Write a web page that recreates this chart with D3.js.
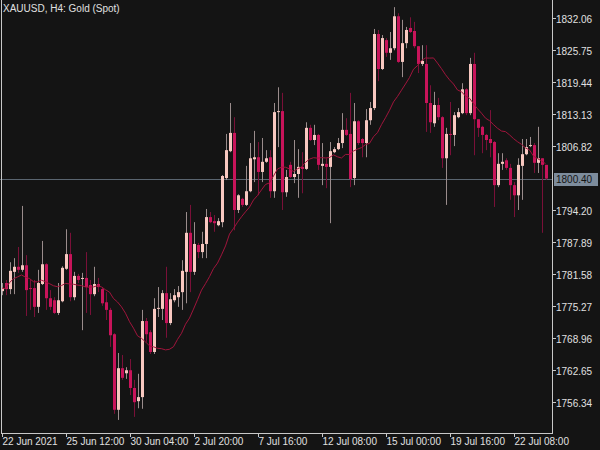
<!DOCTYPE html>
<html>
<head>
<meta charset="utf-8">
<script src="https://cdn.jsdelivr.net/npm/d3@7"></script>
<style>
  body { margin: 0; background: #141414; }
  svg text { font-family: "Liberation Sans", sans-serif; font-size: 10px; }
</style>
</head>
<body>
<svg id="chart" width="600" height="450"></svg>
<script>
// XAUUSD H4 candles
var opens = [1778.2,1779.8,1778.6,1782.0,1783.0,1782.4,1783.3,1778.8,1778.8,1775.1,1779.6,1783.5,1776.8,1776.4,1773.9,1776.2,1782.6,1785.5,1777.0,1781.2,
  1780.6,1780.8,1779.4,1777.6,1779.6,1778.6,1776.0,1774.5,1769.7,1754.8,1763.0,1762.0,1762.6,1759.1,1756.5,1757.3,1772.3,1770.1,1766.2,1774.7,
  1774.7,1777.8,1771.9,1776.4,1777.0,1778.0,1782.0,1789.7,1782.0,1787.3,1785.9,1787.5,1792.8,1792.0,1791.2,1791.8,1800.5,1805.8,1809.4,1794.2,
  1796.4,1795.2,1797.9,1804.2,1804.6,1801.7,1803.7,1804.6,1797.9,1813.5,1813.7,1797.7,1803.1,1800.7,1801.3,1802.7,1802.3,1810.4,1808.0,1809.0,
  1802.9,1803.3,1802.7,1805.6,1806.2,1807.4,1810.0,1809.2,1800.5,1811.7,1808.2,1807.4,1811.9,1814.3,1828.9,1822.0,1827.7,1825.2,1826.1,1832.4,
  1823.4,1827.1,1830.1,1829.5,1826.5,1823.0,1823.0,1815.3,1811.3,1814.9,1812.5,1804.4,1809.2,1809.0,1812.5,1813.3,1818.0,1813.3,1823.0,1812.1,
  1810.6,1809.0,1808.2,1807.6,1799.1,1803.3,1804.0,1802.5,1799.1,1797.1,1802.9,1805.2,1806.8,1807.0,1803.5,1804.4,1803.1];
var highs = [1779.8,1780.4,1783.9,1784.7,1786.9,1795.0,1785.3,1780.4,1780.4,1782.4,1788.1,1783.7,1778.4,1777.0,1779.8,1783.1,1790.4,1789.7,1782.0,1781.6,
  1781.8,1785.9,1780.4,1783.0,1780.8,1779.0,1778.0,1774.9,1769.9,1766.0,1765.6,1763.2,1764.8,1760.7,1761.9,1774.5,1772.9,1770.5,1776.8,1779.0,
  1778.4,1783.0,1777.8,1778.6,1779.2,1784.3,1793.8,1795.2,1791.8,1787.7,1789.9,1794.4,1793.8,1793.2,1792.6,1801.1,1809.2,1815.3,1812.5,1797.3,
  1796.6,1802.9,1807.4,1809.8,1807.6,1808.4,1806.0,1806.0,1815.3,1818.4,1817.3,1802.1,1803.7,1808.0,1806.2,1805.6,1811.5,1811.0,1811.0,1809.2,
  1807.4,1804.4,1807.6,1806.6,1808.4,1813.3,1812.3,1817.3,1815.3,1811.9,1808.4,1814.1,1815.5,1829.9,1829.7,1828.7,1828.1,1829.3,1834.2,1833.0,
  1831.7,1830.3,1832.2,1831.3,1826.5,1826.7,1826.7,1818.8,1817.5,1816.3,1812.7,1810.4,1815.5,1813.5,1814.3,1819.2,1818.2,1824.2,1825.2,1812.1,
  1810.8,1809.2,1813.9,1807.8,1805.4,1805.4,1804.4,1803.3,1799.7,1804.4,1808.2,1808.2,1808.6,1807.4,1810.6,1804.4,1803.1];
var lows = [1777.4,1777.4,1777.6,1777.6,1781.8,1782.0,1773.3,1774.5,1773.1,1773.9,1779.4,1774.5,1774.5,1773.7,1773.5,1776.0,1782.4,1776.2,1776.4,1779.8,
  1770.5,1773.9,1773.5,1777.2,1778.0,1775.3,1772.5,1767.2,1754.0,1752.8,1760.7,1760.9,1757.7,1753.4,1755.1,1755.0,1768.2,1765.8,1765.8,1773.1,
  1772.5,1769.0,1771.5,1776.0,1775.1,1774.5,1775.8,1778.0,1781.4,1784.7,1784.7,1784.7,1791.6,1789.9,1791.0,1790.8,1800.1,1805.6,1790.2,1793.6,
  1794.8,1795.0,1797.7,1799.7,1797.1,1799.7,1803.5,1796.6,1796.6,1806.6,1794.2,1796.8,1800.5,1799.5,1796.6,1797.5,1802.1,1807.8,1807.0,1802.1,
  1799.1,1798.5,1791.6,1805.4,1806.0,1806.4,1808.8,1798.7,1799.1,1807.0,1804.6,1804.6,1811.0,1813.9,1819.6,1821.8,1824.4,1823.8,1825.7,1823.2,
  1820.4,1826.1,1829.1,1826.1,1821.2,1822.6,1809.6,1809.4,1810.6,1811.9,1802.5,1795.2,1805.0,1806.8,1812.3,1813.1,1812.9,1812.9,1805.0,1808.6,
  1805.4,1806.0,1804.6,1794.8,1798.7,1802.1,1802.1,1796.2,1792.8,1794.2,1796.2,1805.0,1806.6,1801.5,1801.5,1789.7,1800.1];
var closes = [1778.8,1778.6,1782.2,1783.0,1782.4,1783.3,1778.4,1778.7,1775.1,1779.8,1783.5,1776.8,1775.1,1773.9,1776.4,1782.8,1785.5,1777.0,1781.2,1780.4,
  1780.8,1779.0,1777.6,1779.6,1779.0,1775.8,1774.5,1769.5,1754.8,1763.0,1761.1,1762.6,1759.1,1756.3,1757.3,1772.3,1769.7,1766.2,1774.7,1774.9,
  1777.8,1771.9,1776.6,1777.4,1778.0,1782.2,1789.7,1782.0,1787.5,1785.9,1787.5,1792.8,1791.8,1791.6,1792.0,1800.9,1806.0,1809.4,1794.2,1797.1,
  1795.2,1797.9,1804.4,1804.6,1801.7,1803.7,1804.4,1797.9,1813.5,1813.7,1797.7,1800.7,1800.7,1801.3,1802.7,1802.3,1810.4,1808.0,1809.0,1803.1,
  1803.3,1802.7,1805.8,1806.2,1807.4,1810.0,1809.0,1800.3,1811.7,1807.4,1807.4,1811.9,1814.3,1828.9,1822.0,1828.1,1825.2,1826.1,1832.4,1823.4,
  1827.1,1829.7,1829.3,1826.5,1823.0,1823.6,1815.3,1811.5,1814.9,1812.5,1804.4,1809.2,1809.0,1812.9,1813.5,1818.0,1813.3,1823.0,1812.1,1810.4,
  1809.0,1808.0,1807.4,1799.1,1803.3,1803.7,1802.5,1799.1,1797.1,1803.1,1805.2,1806.6,1807.0,1803.5,1804.4,1803.1,1800.4];
var priceTicks = [1832.06,1825.75,1819.44,1813.13,1806.82,1794.20,1787.89,1781.58,1775.27,1768.96,1762.65,1756.34];
var timeLabels = ["22 Jun 2021","25 Jun 12:00","30 Jun 04:00","2 Jul 20:00","7 Jul 16:00","12 Jul 08:00","15 Jul 00:00","19 Jul 16:00","22 Jul 08:00"];
var lastPrice = 1800.40;
var maPeriod = 16;

var bullColor = "#f8c8c0", bearColor = "#c8145a";
var bullWick = "#9a8c8c", bearWick = "#7a1038";

var svg = d3.select("#chart");
var plotW = 552, plotH = 433;

var x = d3.scaleLinear().domain([0, 1]).range([1.5, 5.5]);
var y = d3.scaleLinear().domain([1835.61, 1835.61 - 433 * 0.1972]).range([0, 433]);

svg.append("rect").attr("width", 600).attr("height", 450).attr("fill", "#141414");

var plot = svg.append("g");
plot.append("clipPath").attr("id", "clip").append("rect").attr("width", plotW).attr("height", plotH);
var g = plot.append("g").attr("clip-path", "url(#clip)");

// current price line
g.append("line").attr("x1", 0).attr("x2", plotW)
  .attr("y1", Math.round(y(lastPrice)) + 0.5).attr("y2", Math.round(y(lastPrice)) + 0.5)
  .attr("stroke", "#5a6570").attr("stroke-width", 1);

var idx = d3.range(closes.length);

g.selectAll(".wick").data(idx).enter().append("line")
  .attr("x1", function (i) { return Math.round(x(i)) + 0.5; })
  .attr("x2", function (i) { return Math.round(x(i)) + 0.5; })
  .attr("y1", function (i) { return y(highs[i]); })
  .attr("y2", function (i) { return y(lows[i]); })
  .attr("stroke", function (i) { return closes[i] >= opens[i] ? bullWick : bearWick; })
  .attr("stroke-width", 1);

g.selectAll(".body").data(idx).enter().append("rect")
  .attr("x", function (i) { return Math.round(x(i)) - 1; })
  .attr("width", 3)
  .attr("y", function (i) { return y(Math.max(opens[i], closes[i])); })
  .attr("height", function (i) { return Math.max(1, Math.abs(y(opens[i]) - y(closes[i]))); })
  .attr("fill", function (i) { return closes[i] >= opens[i] ? bullColor : bearColor; });

// moving average of closes (shorter window at the very start)
var ma = idx.map(function (i) {
  return [i, d3.mean(closes.slice(Math.max(0, i - maPeriod + 1), i + 1))];
});
g.append("path").datum(ma)
  .attr("fill", "none").attr("stroke", "#a0143c").attr("stroke-width", 1)
  .attr("d", d3.line().x(function (d) { return x(d[0]); }).y(function (d) { return y(d[1]); }));

// frame
svg.append("line").attr("x1", plotW + 0.5).attr("x2", plotW + 0.5).attr("y1", 0).attr("y2", plotH + 0.5).attr("stroke", "#c8c8c8");
svg.append("line").attr("x1", 1.5).attr("x2", 1.5).attr("y1", 0).attr("y2", plotH + 0.5).attr("stroke", "#c8c8c8");
svg.append("line").attr("x1", 1).attr("x2", plotW + 1).attr("y1", plotH + 0.5).attr("y2", plotH + 0.5).attr("stroke", "#c8c8c8");

// price axis
var yAxis = svg.append("g");
priceTicks.forEach(function (p) {
  var yy = Math.round(y(p)) + 0.5;
  yAxis.append("line").attr("x1", plotW).attr("x2", plotW + 4).attr("y1", yy).attr("y2", yy).attr("stroke", "#c8c8c8");
  yAxis.append("text").attr("x", plotW + 4).attr("y", yy + 4).attr("fill", "#e0e0e0").text(p.toFixed(2));
});
var ly = Math.round(y(lastPrice));
yAxis.append("rect").attr("x", plotW + 2).attr("y", ly - 6).attr("width", 44).attr("height", 13).attr("fill", "#7d8c9c");
yAxis.append("text").attr("x", plotW + 4).attr("y", ly + 4).attr("fill", "#141414").text(lastPrice.toFixed(2));

// time axis
timeLabels.forEach(function (t, k) {
  var xx = Math.round(x(k * 16)) + 0.5;
  svg.append("line").attr("x1", xx).attr("x2", xx).attr("y1", plotH).attr("y2", plotH + 4).attr("stroke", "#c8c8c8");
  svg.append("text").attr("x", xx).attr("y", plotH + 12).attr("fill", "#e0e0e0").text(t);
});

svg.append("text").attr("x", 3).attr("y", 12).attr("fill", "#e0e0e0").text("XAUUSD, H4:  Gold (Spot)");
</script>
</body>
</html>
